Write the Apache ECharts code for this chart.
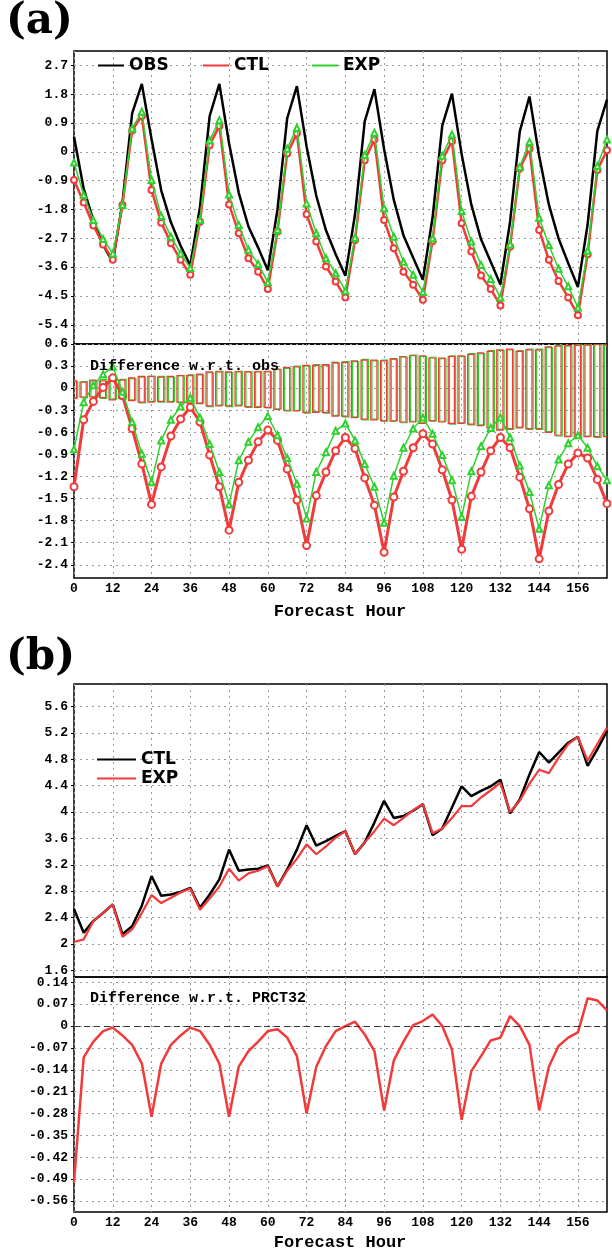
<!DOCTYPE html>
<html><head><meta charset="utf-8">
<script src="https://cdn.jsdelivr.net/npm/echarts@6/dist/echarts.min.js"></script>
<style>html,body{margin:0;padding:0;background:#fff}#c{width:612px;height:1252px}</style>
</head><body><div id="c"></div>
<script>
// ---------- data ----------
const hours = [0,3,6,9,12,15,18,21,24,27,30,33,36,39,42,45,48,51,54,57,60,63,66,69,72,75,78,81,84,87,90,93,96,99,102,105,108,111,114,117,120,123,126,129,132,135,138,141,144,147,150,153,156,159,162,165];

// panel (a) top
const obsA = [0.47,-1.15,-2.14,-2.9,-3.45,-1.58,1.2,2.12,
              0.4,-1.2,-2.2,-2.93,-3.55,-1.72,1.12,2.12,
              0.27,-1.28,-2.33,-2.99,-3.7,-1.79,1.05,2.05,
              0.17,-1.37,-2.45,-3.2,-3.87,-1.95,0.95,1.96,
              0.08,-1.5,-2.61,-3.31,-3.99,-2.05,0.82,1.82,
              -0.07,-1.65,-2.73,-3.43,-4.14,-2.18,0.64,1.73,
              -0.13,-1.65,-2.7,-3.48,-4.22,-2.27,0.65,1.63];
const ctlA = [-0.88,-1.58,-2.3,-2.89,-3.37,-1.66,0.67,1.12,
              -1.19,-2.21,-2.85,-3.37,-3.84,-2.18,0.21,0.81,
              -1.64,-2.54,-3.32,-3.74,-4.28,-2.49,-0.05,0.57,
              -1.95,-2.8,-3.58,-4.05,-4.55,-2.75,-0.26,0.39,
              -2.13,-3.01,-3.74,-4.15,-4.62,-2.78,-0.26,0.33,
              -2.23,-3.11,-3.86,-4.28,-4.8,-2.96,-0.52,0.1,
              -2.44,-3.37,-4.03,-4.55,-5.1,-3.2,-0.57,0.05];
const expA = [-0.33,-1.35,-2.13,-2.72,-3.17,-1.66,0.73,1.25,
              -0.88,-2.0,-2.65,-3.17,-3.63,-2.13,0.36,0.99,
              -1.33,-2.28,-3.06,-3.5,-4.07,-2.44,0.1,0.75,
              -1.61,-2.54,-3.32,-3.79,-4.34,-2.68,-0.1,0.6,
              -1.76,-2.65,-3.43,-3.84,-4.38,-2.7,-0.12,0.54,
              -1.85,-2.8,-3.53,-3.97,-4.55,-2.89,-0.47,0.31,
              -2.06,-2.91,-3.65,-4.2,-4.86,-3.09,-0.44,0.39];

// panel (a) bottom: difference w.r.t. obs
const ctlDiffA = [-1.34,-0.43,-0.18,0.01,0.14,-0.1,-0.55,-1.03,
                  -1.58,-1.07,-0.65,-0.42,-0.26,-0.46,-0.91,-1.34,
                  -1.93,-1.28,-0.98,-0.73,-0.57,-0.71,-1.1,-1.52,
                  -2.14,-1.46,-1.14,-0.85,-0.67,-0.82,-1.22,-1.59,
                  -2.23,-1.48,-1.13,-0.81,-0.62,-0.76,-1.11,-1.52,
                  -2.19,-1.47,-1.14,-0.85,-0.67,-0.81,-1.21,-1.64,
                  -2.32,-1.67,-1.31,-1.03,-0.88,-0.95,-1.24,-1.57];
const expDiffA = [-0.83,-0.19,0.04,0.19,0.29,-0.05,-0.46,-0.89,
                  -1.28,-0.71,-0.43,-0.25,-0.13,-0.4,-0.76,-1.14,
                  -1.58,-0.98,-0.73,-0.53,-0.38,-0.64,-0.95,-1.3,
                  -1.77,-1.14,-0.87,-0.58,-0.48,-0.71,-1.03,-1.34,
                  -1.83,-1.19,-0.81,-0.55,-0.4,-0.62,-0.91,-1.25,
                  -1.75,-1.13,-0.79,-0.54,-0.4,-0.67,-1.05,-1.41,
                  -1.91,-1.32,-0.97,-0.75,-0.64,-0.81,-1.06,-1.25];
const ctlBoxTop = [0.10,0.08,0.11,0.10,0.15,0.11,0.14,0.16,
                   0.16,0.15,0.16,0.17,0.17,0.19,0.22,0.22,
                   0.22,0.22,0.22,0.22,0.23,0.26,0.28,0.29,
                   0.31,0.31,0.32,0.35,0.35,0.37,0.38,0.38,
                   0.37,0.40,0.43,0.44,0.44,0.41,0.41,0.43,
                   0.44,0.46,0.48,0.50,0.52,0.53,0.50,0.52,
                   0.52,0.56,0.57,0.58,0.58,0.59,0.59,0.59];
const ctlBoxBot = [-0.14,-0.12,-0.12,-0.13,-0.16,-0.14,-0.17,-0.19,
                   -0.19,-0.18,-0.19,-0.19,-0.20,-0.21,-0.24,-0.24,
                   -0.24,-0.24,-0.25,-0.26,-0.26,-0.29,-0.30,-0.31,
                   -0.33,-0.33,-0.33,-0.38,-0.38,-0.40,-0.42,-0.43,
                   -0.44,-0.45,-0.46,-0.46,-0.48,-0.44,-0.46,-0.48,
                   -0.48,-0.49,-0.51,-0.54,-0.57,-0.55,-0.54,-0.55,
                   -0.55,-0.60,-0.64,-0.66,-0.67,-0.66,-0.66,-0.66];
const expBoxTop = [0.09,0.09,0.10,0.12,0.14,0.12,0.13,0.15,
                   0.16,0.16,0.15,0.17,0.18,0.18,0.21,0.23,
                   0.21,0.23,0.22,0.23,0.22,0.25,0.27,0.30,
                   0.30,0.32,0.31,0.34,0.36,0.36,0.39,0.37,
                   0.38,0.39,0.42,0.45,0.43,0.42,0.40,0.44,
                   0.43,0.47,0.47,0.51,0.51,0.52,0.51,0.53,
                   0.53,0.55,0.58,0.57,0.59,0.58,0.60,0.58];
const expBoxBot = [-0.13,-0.13,-0.11,-0.14,-0.15,-0.15,-0.16,-0.20,
                   -0.18,-0.19,-0.18,-0.20,-0.21,-0.20,-0.25,-0.23,
                   -0.25,-0.23,-0.26,-0.25,-0.27,-0.28,-0.31,-0.30,
                   -0.34,-0.32,-0.34,-0.37,-0.39,-0.39,-0.43,-0.42,
                   -0.45,-0.44,-0.47,-0.45,-0.47,-0.45,-0.45,-0.49,
                   -0.47,-0.50,-0.50,-0.55,-0.56,-0.56,-0.53,-0.56,
                   -0.56,-0.59,-0.65,-0.65,-0.68,-0.65,-0.67,-0.65];

// panel (b)
const ctlB = [2.53,2.17,2.35,2.47,2.6,2.15,2.27,2.58,
              3.03,2.73,2.75,2.79,2.85,2.55,2.75,2.98,
              3.43,3.11,3.13,3.14,3.19,2.87,3.13,3.43,
              3.8,3.49,3.56,3.64,3.71,3.36,3.54,3.84,
              4.17,3.91,3.94,4.02,4.12,3.65,3.75,4.07,
              4.39,4.24,4.32,4.39,4.49,3.98,4.19,4.57,
              4.91,4.75,4.9,5.05,5.14,4.7,4.95,5.23];
const expB = [2.03,2.07,2.35,2.47,2.6,2.11,2.22,2.47,
              2.74,2.62,2.7,2.78,2.84,2.52,2.69,2.87,
              3.14,2.96,3.07,3.11,3.18,2.87,3.11,3.29,
              3.51,3.36,3.48,3.61,3.71,3.36,3.54,3.71,
              3.9,3.8,3.91,4.03,4.12,3.68,3.75,3.91,
              4.09,4.09,4.22,4.33,4.44,4.0,4.17,4.43,
              4.64,4.59,4.82,5.03,5.14,4.78,5.03,5.28];
const diffB = [-0.5,-0.1,-0.05,-0.016,-0.005,-0.03,-0.06,-0.12,
               -0.29,-0.12,-0.06,-0.03,-0.005,-0.016,-0.06,-0.12,
               -0.29,-0.13,-0.08,-0.05,-0.016,-0.01,-0.037,-0.096,
               -0.28,-0.13,-0.064,-0.016,0.0,0.014,-0.027,-0.08,
               -0.27,-0.11,-0.05,0.003,0.016,0.037,0.0,-0.075,
               -0.3,-0.144,-0.096,-0.046,-0.037,0.032,0.0,-0.06,
               -0.27,-0.13,-0.064,-0.037,-0.02,0.089,0.082,0.05];

// tick labels
const xTicks = [0,12,24,36,48,60,72,84,96,108,120,132,144,156];
const yTicksA1 = [-5.4,-4.5,-3.6,-2.7,-1.8,-0.9,0,0.9,1.8,2.7];
const yTicksA2 = [-2.4,-2.1,-1.8,-1.5,-1.2,-0.9,-0.6,-0.3,0,0.3,0.6];
const yTicksB1 = [1.6,2,2.4,2.8,3.2,3.6,4,4.4,4.8,5.2,5.6];
const yTicksB2 = [-0.56,-0.49,-0.42,-0.35,-0.28,-0.21,-0.14,-0.07,0,0.07,0.14];

// ---------- styling ----------
const RED = '#f23a3a', GREEN = '#2ed12e', BLACK = '#000';
const TICKFONT = {fontFamily:'Liberation Mono', fontWeight:'bold', fontSize:13, color:'#000'};
const GRIDLINE = {show:true, lineStyle:{color:'#9a9a9a', type:[2,4], width:1}};

function pairs(arr){ return hours.map((h,i)=>[h, arr[i]]); }

function xAx(grid, labels){
  return {type:'value', gridIndex:grid, min:0, max:165,
    axisLine:{show:false},
    axisTick:{show:false, customValues:xTicks},
    axisLabel:{show:labels, customValues:xTicks, margin:4, ...TICKFONT},
    splitLine:GRIDLINE};
}
function yAx(grid, min, max, ticks){
  return {type:'value', gridIndex:grid, min:min, max:max,
    axisLine:{show:false},
    axisTick:{show:true, customValues:ticks, length:3, lineStyle:{color:'#000'}},
    axisLabel:{show:true, customValues:ticks, margin:6, formatter:v=>String(v), ...TICKFONT},
    splitLine:GRIDLINE};
}
function boxSeries(name, tops, bots, color, shift){
  return {type:'custom', name:name, xAxisIndex:1, yAxisIndex:1, z:1, clip:true, silent:true,
    data: hours.map((h,i)=>[h, tops[i], bots[i]]),
    encode:{x:0, y:[1,2]},
    renderItem:function(params, api){
      const p1 = api.coord([api.value(0), api.value(1)]);
      const p2 = api.coord([api.value(0), api.value(2)]);
      const w = api.size([3,0])[0]*0.64;
      return {type:'rect', shape:{x:p1[0]-w/2+shift, y:p1[1], width:w, height:p2[1]-p1[1]},
              style:{fill:'none', stroke:color, lineWidth:1.2}};
    }};
}
const LEG = {icon:'rect', itemWidth:26, itemHeight:2, itemGap:0, padding:0, selectedMode:false,
  textStyle:{fontFamily:'DejaVu Sans', fontWeight:'bold', fontSize:17, color:'#000'}};
const legItem = (name, color) => ({name:name, itemStyle:{color:color, borderWidth:0, borderColor:color}});

const chart = echarts.init(document.getElementById('c'), null, {renderer:'canvas'});
chart.setOption({
  animation:false,
  backgroundColor:'#fff',
  grid:[
    {left:74, right:5, top:51, height:293, show:true, borderColor:'#000', borderWidth:1.5},
    {left:74, right:5, top:344, height:234, show:true, borderColor:'#000', borderWidth:1.5},
    {left:74, right:5, top:684, height:293, show:true, borderColor:'#000', borderWidth:1.5},
    {left:74, right:5, top:977, height:235, show:true, borderColor:'#000', borderWidth:1.5}
  ],
  xAxis:[xAx(0,false), xAx(1,true), xAx(2,false), xAx(3,true)],
  yAxis:[yAx(0,-6.0,3.15,yTicksA1), yAx(1,-2.58,0.6,yTicksA2), yAx(2,1.5,5.94,yTicksB1), yAx(3,-0.595,0.157,yTicksB2)],
  legend:[
    {...LEG, left:98, top:57, data:[legItem('OBS', BLACK)]},
    {...LEG, left:203, top:57, data:[legItem('CTL', RED)]},
    {...LEG, left:312, top:57, data:[legItem('EXP', GREEN)]},
    {...LEG, left:97, top:751, itemWidth:39, data:[legItem('CTL (b)', BLACK)], formatter:()=>'CTL'},
    {...LEG, left:97, top:770, itemWidth:39, data:[legItem('EXP (b)', RED)], formatter:()=>'EXP'}
  ],
  graphic:[
    {type:'text', x:6, y:22, style:{text:'(a)', font:'bold 42px "DejaVu Serif"', fill:'#000', verticalAlign:'middle'}},
    {type:'text', x:6, y:658, style:{text:'(b)', font:'bold 42px "DejaVu Serif"', fill:'#000', verticalAlign:'middle'}},
    {type:'text', x:90, y:366, z:10, style:{text:'Difference w.r.t. obs', font:'bold 15px "Liberation Mono"', fill:'#000', verticalAlign:'middle'}},
    {type:'text', x:90, y:998, z:10, style:{text:'Difference w.r.t. PRCT32', font:'bold 15px "Liberation Mono"', fill:'#000', verticalAlign:'middle'}},
    {type:'text', x:340, y:612, style:{text:'Forecast Hour', font:'bold 17px "Liberation Mono"', fill:'#000', align:'center', verticalAlign:'middle'}},
    {type:'text', x:340, y:1243, style:{text:'Forecast Hour', font:'bold 17px "Liberation Mono"', fill:'#000', align:'center', verticalAlign:'middle'}}
  ],
  series:[
    boxSeries('EXP box', expBoxTop, expBoxBot, GREEN, 0.6),
    boxSeries('CTL box', ctlBoxTop, ctlBoxBot, RED, -0.6),
    {type:'line', name:'OBS', xAxisIndex:0, yAxisIndex:0, z:3, data:pairs(obsA), symbol:'none',
      lineStyle:{color:BLACK, width:2.5}, itemStyle:{color:BLACK}},
    {type:'line', name:'CTL', xAxisIndex:0, yAxisIndex:0, z:4, data:pairs(ctlA), symbol:'emptyCircle', symbolSize:6,
      lineStyle:{color:RED, width:2.5}, itemStyle:{color:RED, borderColor:RED, borderWidth:1.8}},
    {type:'line', name:'EXP', xAxisIndex:0, yAxisIndex:0, z:5, data:pairs(expA), symbol:'emptyTriangle', symbolSize:6,
      lineStyle:{color:GREEN, width:1.5}, itemStyle:{color:GREEN, borderColor:GREEN, borderWidth:1.2}},
    {type:'line', name:'CTL diff', xAxisIndex:1, yAxisIndex:1, z:4, data:pairs(ctlDiffA), symbol:'emptyCircle', symbolSize:7,
      lineStyle:{color:RED, width:3}, itemStyle:{color:RED, borderColor:RED, borderWidth:2}},
    {type:'line', name:'EXP diff', xAxisIndex:1, yAxisIndex:1, z:5, data:pairs(expDiffA), symbol:'emptyTriangle', symbolSize:6,
      lineStyle:{color:GREEN, width:1.5}, itemStyle:{color:GREEN, borderColor:GREEN, borderWidth:1.2}},
    {type:'line', name:'CTL (b)', xAxisIndex:2, yAxisIndex:2, z:3, data:pairs(ctlB), symbol:'none',
      lineStyle:{color:BLACK, width:2.5}, itemStyle:{color:BLACK}},
    {type:'line', name:'EXP (b)', xAxisIndex:2, yAxisIndex:2, z:4, data:pairs(expB), symbol:'none',
      lineStyle:{color:RED, width:2.2}, itemStyle:{color:RED}},
    {type:'line', name:'Diff (b)', xAxisIndex:3, yAxisIndex:3, z:4, data:pairs(diffB), symbol:'none',
      lineStyle:{color:RED, width:2.5}, itemStyle:{color:RED},
      markLine:{silent:true, symbol:'none', label:{show:false}, lineStyle:{color:'#333', type:[6,4], width:1},
        data:[{yAxis:0}]}}
  ]
});
</script>
</body></html>
